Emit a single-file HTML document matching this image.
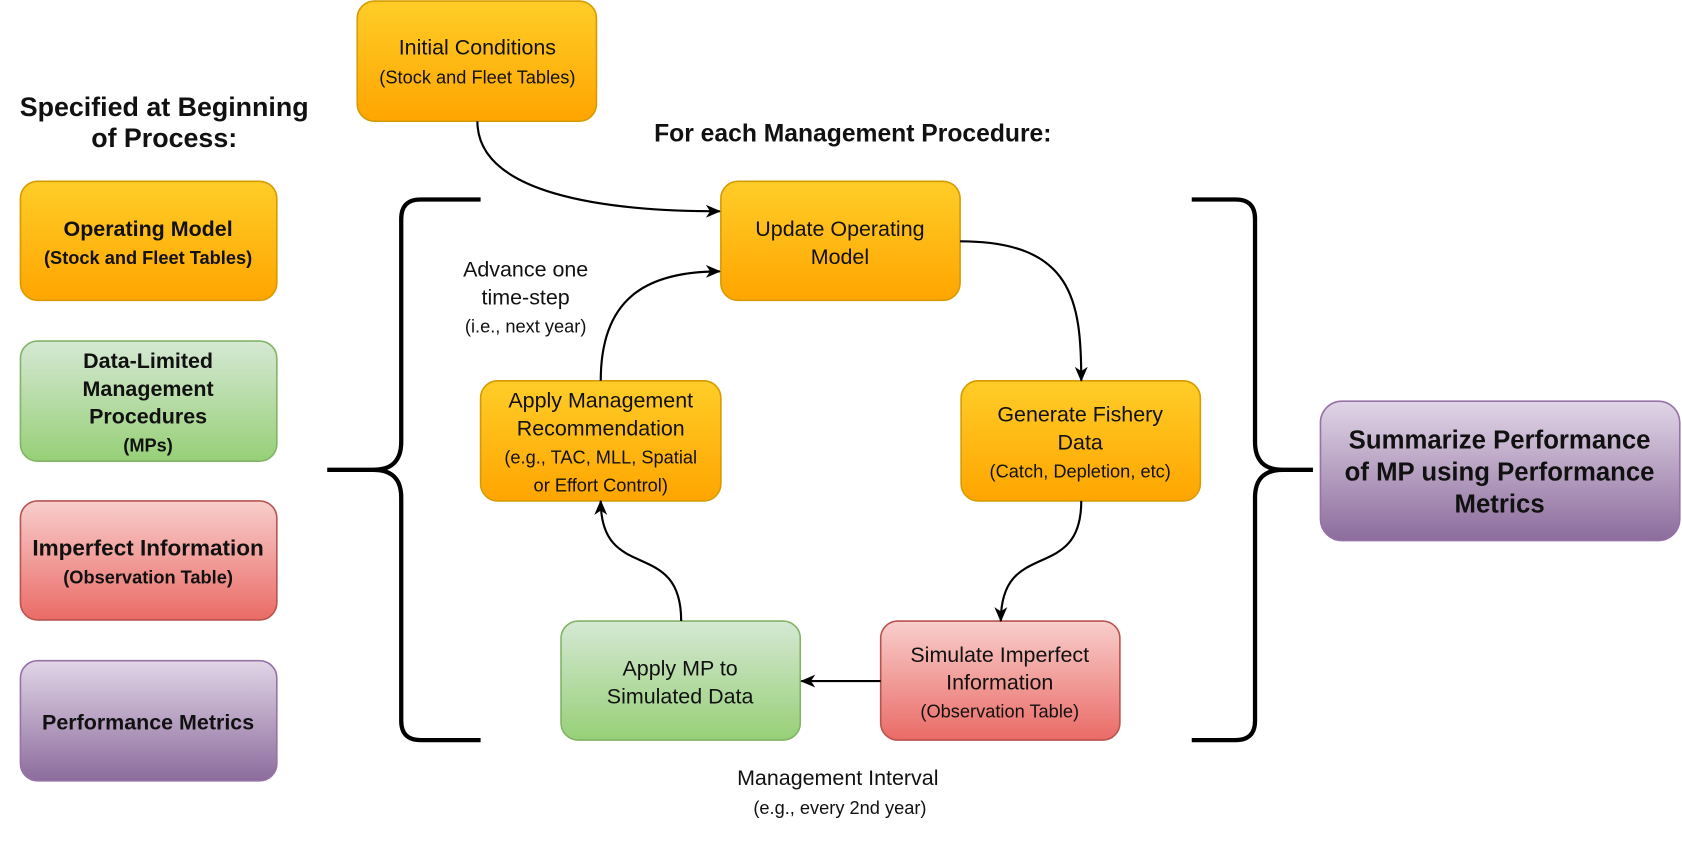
<!DOCTYPE html>
<html><head><meta charset="utf-8"><style>html,body{margin:0;padding:0;background:#fff}svg{display:block}text{font-family:"Liberation Sans",Arial,sans-serif;fill:#111}</style></head><body>
<svg width="1682" height="842" viewBox="0 0 1568 785" xmlns="http://www.w3.org/2000/svg">
<defs>
<linearGradient id="o" x1="0" y1="0" x2="0" y2="1"><stop offset="0" stop-color="#ffcd28"/><stop offset="1" stop-color="#ffa500"/></linearGradient>
<linearGradient id="g" x1="0" y1="0" x2="0" y2="1"><stop offset="0" stop-color="#d5e8d4"/><stop offset="1" stop-color="#97d077"/></linearGradient>
<linearGradient id="r" x1="0" y1="0" x2="0" y2="1"><stop offset="0" stop-color="#f8cecc"/><stop offset="1" stop-color="#ea6b66"/></linearGradient>
<linearGradient id="p" x1="0" y1="0" x2="0" y2="1"><stop offset="0" stop-color="#e1d5e7"/><stop offset="1" stop-color="#8c6c9c"/></linearGradient>
<marker id="a" markerWidth="14" markerHeight="14" refX="13" refY="7" orient="auto" markerUnits="userSpaceOnUse"><path d="M0,1 L14,7 L0,13 L4,7 Z" fill="#000"/></marker>
</defs>
<g stroke-width="1.5">
<rect x="333" y="1" width="223" height="112" rx="16" fill="url(#o)" stroke="#d79b00"/>
<rect x="19" y="169" width="239" height="111" rx="16" fill="url(#o)" stroke="#d79b00"/>
<rect x="19" y="318" width="239" height="112" rx="16" fill="url(#g)" stroke="#82b366"/>
<rect x="19" y="467" width="239" height="111" rx="16" fill="url(#r)" stroke="#b85450"/>
<rect x="19" y="616" width="239" height="112" rx="16" fill="url(#p)" stroke="#9673a6"/>
<rect x="672" y="169" width="223" height="111" rx="16" fill="url(#o)" stroke="#d79b00"/>
<rect x="896" y="355" width="223" height="112" rx="16" fill="url(#o)" stroke="#d79b00"/>
<rect x="821" y="579" width="223" height="111" rx="16" fill="url(#r)" stroke="#b85450"/>
<rect x="523" y="579" width="223" height="111" rx="16" fill="url(#g)" stroke="#82b366"/>
<rect x="448" y="355" width="224" height="112" rx="16" fill="url(#o)" stroke="#d79b00"/>
<rect x="1231" y="374" width="335" height="130" rx="20" fill="url(#p)" stroke="#9673a6"/>
</g>
<g fill="none" stroke="#000" stroke-width="4">
<path d="M448,186 L392,186 Q374,186 374,204 L374,412 Q374,438 348,438 L305,438 M348,438 Q374,438 374,464 L374,672 Q374,690 392,690 L448,690"/>
<path d="M1111,186 L1152,186 Q1170,186 1170,204 L1170,412 Q1170,438 1196,438 L1224,438 M1196,438 Q1170,438 1170,464 L1170,672 Q1170,690 1152,690 L1111,690"/>
</g>
<g fill="none" stroke="#000" stroke-width="2" marker-end="url(#a)">
<path d="M445,113 C445,180 560,197 671,197"/>
<path d="M895,225 C1000,225 1008,280 1008,355"/>
<path d="M1008,467 C1008,545 933,500 933,579"/>
<path d="M821,635 L747,635"/>
<path d="M635,579 C635,500 560,545 560,467"/>
<path d="M560,355 C560,280 600,253 671,253"/>
</g>
<g text-anchor="middle">
<text x="445" y="51" font-size="20">Initial Conditions</text>
<text x="445" y="78" font-size="17">(Stock and Fleet Tables)</text>
<text x="153" y="108" font-size="25" font-weight="bold">Specified at Beginning</text>
<text x="153" y="137" font-size="25" font-weight="bold">of Process:</text>
<text x="795" y="132" font-size="23" font-weight="bold">For each Management Procedure:</text>
<text x="138" y="220" font-size="20" font-weight="bold">Operating Model</text>
<text x="138" y="246" font-size="17" font-weight="bold">(Stock and Fleet Tables)</text>
<text x="138" y="343" font-size="20" font-weight="bold">Data-Limited</text>
<text x="138" y="369" font-size="20" font-weight="bold">Management</text>
<text x="138" y="395" font-size="20" font-weight="bold">Procedures</text>
<text x="138" y="421" font-size="17" font-weight="bold">(MPs)</text>
<text x="138" y="518" font-size="21" font-weight="bold">Imperfect Information</text>
<text x="138" y="544" font-size="17" font-weight="bold">(Observation Table)</text>
<text x="138" y="680" font-size="20" font-weight="bold">Performance Metrics</text>
<text x="783" y="220" font-size="20">Update Operating</text>
<text x="783" y="246" font-size="20">Model</text>
<text x="1007" y="393" font-size="20">Generate Fishery</text>
<text x="1007" y="419" font-size="20">Data</text>
<text x="1007" y="445" font-size="17">(Catch, Depletion, etc)</text>
<text x="932" y="617" font-size="20">Simulate Imperfect</text>
<text x="932" y="643" font-size="20">Information</text>
<text x="932" y="669" font-size="17">(Observation Table)</text>
<text x="634" y="630" font-size="20">Apply MP to</text>
<text x="634" y="656" font-size="20">Simulated Data</text>
<text x="560" y="380" font-size="20">Apply Management</text>
<text x="560" y="406" font-size="20">Recommendation</text>
<text x="560" y="432" font-size="17">(e.g., TAC, MLL, Spatial</text>
<text x="560" y="458" font-size="17">or Effort Control)</text>
<text x="1398" y="418" font-size="24" font-weight="bold">Summarize Performance</text>
<text x="1398" y="448" font-size="24" font-weight="bold">of MP using Performance</text>
<text x="1398" y="478" font-size="24" font-weight="bold">Metrics</text>
<text x="490" y="258" font-size="20">Advance one</text>
<text x="490" y="284" font-size="20">time-step</text>
<text x="490" y="310" font-size="17">(i.e., next year)</text>
<text x="781" y="732" font-size="20">Management Interval</text>
<text x="783" y="759" font-size="17">(e.g., every 2nd year)</text>
</g>
</svg>
</body></html>
